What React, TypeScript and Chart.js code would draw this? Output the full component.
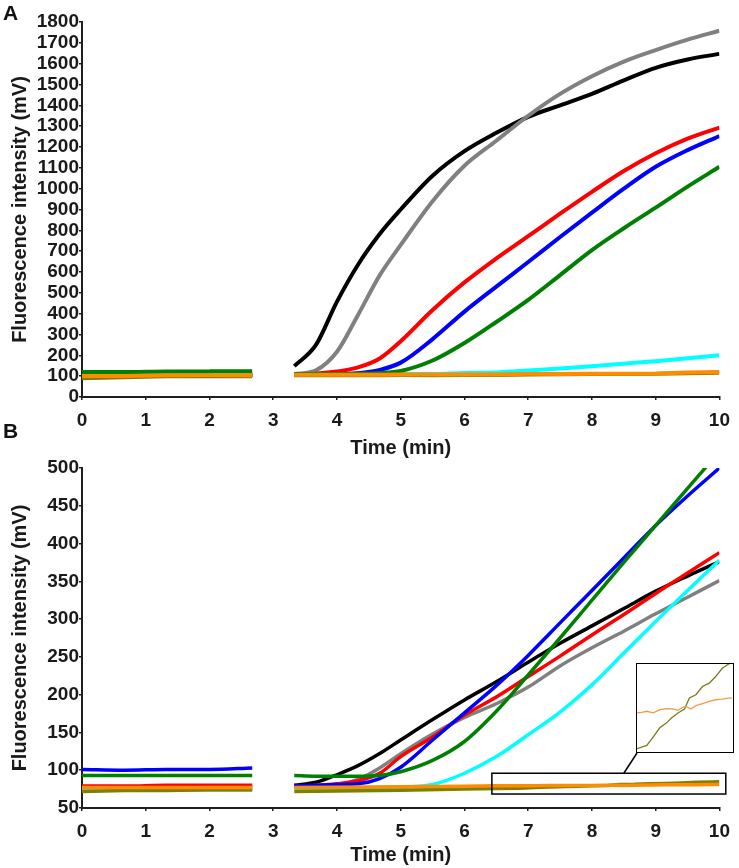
import React, { useEffect, useRef } from "react";
import { Chart, registerables } from "chart.js";

Chart.register(...registerables);

// ---------- shared time grids (min) ----------
const TIME_SEG1 = [0, 0.67, 1.33, 2, 2.67];
const TIME_SEG2 = [3.33, 3.67, 4, 4.33, 4.67, 5, 5.5, 6, 6.5, 7, 7.5, 8, 8.5, 9, 9.5, 10];
const GAP_TIME = 3;
const TIME_MAIN = [...TIME_SEG1, ...TIME_SEG2];

// ---------- Panel A (mV) ----------
const A_BLACK = [104, 104, 105, 106, 106, 148, 250, 458, 635, 782, 900, 1062, 1180, 1268, 1345, 1400, 1455, 1520, 1580, 1620, 1647];
const A_GRAY = [104, 104, 105, 106, 106, 110, 128, 217, 394, 584, 730, 940, 1110, 1230, 1350, 1455, 1540, 1610, 1665, 1715, 1758];
const A_RED = [104, 104, 105, 106, 106, 108, 112, 122, 142, 185, 268, 418, 550, 665, 772, 880, 985, 1085, 1170, 1240, 1293];
const A_BLUE = [104, 104, 105, 106, 106, 108, 109, 110, 114, 130, 165, 278, 410, 530, 648, 768, 885, 1000, 1105, 1185, 1253];
const A_GREEN = [120, 120, 123, 123, 124, 110, 110, 110, 112, 115, 125, 175, 259, 360, 466, 585, 705, 810, 909, 1010, 1105];
const A_CYAN = [104, 104, 105, 106, 106, 108, 108, 108, 109, 109, 110, 111, 115, 118, 127, 137, 148, 160, 172, 186, 200];
const A_ORANGE = [101, 101, 104, 105, 105, 107, 107, 107, 107, 107, 108, 108, 108, 108, 111, 111, 112, 112, 113, 118, 120];
const A_OLIVE = [90, 95, 99, 100, 100, 104, 104, 104, 104, 104, 105, 105, 106, 106, 108, 109, 110, 110, 111, 114, 116];

// ---------- Panel B (mV) ----------
const B_BLACK = [78, 78, 78, 78, 78, 80, 84, 94, 106, 122, 140, 167, 193, 217, 243, 268, 291, 314, 337, 357, 376];
const B_GRAY = [74, 74, 74, 74, 74, 77, 78, 81, 88, 103, 122, 148, 170, 188, 210, 238, 262, 284, 307, 329, 351];
const B_RED = [79, 79, 80, 80, 80, 79, 80, 82, 86, 96, 118, 144, 173, 197, 224, 251, 279, 306, 334, 361, 388];
const B_BLUE = [101, 100, 101, 101, 103, 79, 80, 81, 82, 89, 104, 140, 176, 212, 252, 295, 338, 381, 424, 463, 500];
const B_GREEN = [93, 93, 93, 93, 93, 93, 92, 92, 92, 93, 98, 113, 138, 178, 226, 275, 325, 375, 424, 473, 522];
const B_CYAN = [75, 75, 75, 75, 75, 76, 76, 76, 76, 76, 77, 81, 96, 118, 147, 177, 213, 255, 297, 338, 378];

const B_ORANGE_TIME = [0, 0.67, 1.33, 2, 2.67, 3.33, 4, 5, 6, 6.5, 6.68, 6.86, 7.1, 7.34, 7.59, 7.83, 8.01, 8.19, 8.31, 8.49, 8.67, 8.91, 9.16, 9.4, 9.64, 9.88, 10];
const B_ORANGE = [77, 77, 77, 77, 77, 77, 77.5, 78.2, 78.8, 79.44, 79.5, 79.61, 79.44, 79.78, 79.88, 79.85, 79.71, 80.02, 80.12, 79.85, 80.19, 80.39, 80.63, 80.8, 80.87, 80.97, 81.0];
const B_OLIVE_TIME = [0, 0.67, 1.33, 2, 2.67, 3.33, 4, 5, 6, 6.5, 6.86, 7.1, 7.34, 7.59, 7.77, 8.01, 8.25, 8.43, 8.67, 8.91, 9.16, 9.4, 9.64, 9.88, 10];
const B_OLIVE = [72, 73, 73, 74, 74, 72, 72.5, 73.5, 75, 75.74, 76.08, 76.97, 77.9, 78.41, 78.92, 79.44, 79.85, 80.98, 81.32, 82.17, 82.52, 83.2, 84.06, 84.5, 84.7];

// zoom window shown in the inset (time range, mV range)
const ZOOM_TIME = [6.43, 10.1];
const ZOOM_MV = [68.5, 96];
const INSET_TIME = [6.5, 10];
const INSET_MV = [75.5, 84.5];

const SERIES_COLORS = {
  orange: "#ff8c00",
  olive: "#808000",
  green: "#008000",
  cyan: "#00ffff",
  blue: "#0000ff",
  red: "#ff0000",
  gray: "#808080",
  black: "#000000",
};

const FONT = "'Liberation Sans', Arial, Helvetica, sans-serif";
const AXIS_COLOR = "#1e1e1e";
const TEXT_COLOR = "#1a1a1a";

// page layout
const PAGE_W = 739;
const A_H = 460;
const B_TOP = 456;
const B_H = 868 - B_TOP;
const INSET_BOX = { left: 636, top: 663, width: 98, height: 90 };

function toPoints(times: number[], values: number[]) {
  const pts: { x: number; y: number | null }[] = [];
  for (let i = 0; i < times.length; i++) {
    if (i > 0 && times[i - 1] < GAP_TIME && times[i] > GAP_TIME) {
      pts.push({ x: GAP_TIME, y: null });
    }
    pts.push({ x: times[i], y: values[i] });
  }
  return pts;
}

function ds(label: string, color: string, times: number[], values: number[], width: number, smooth = true) {
  return {
    label,
    data: toPoints(times, values),
    borderColor: color,
    backgroundColor: color,
    borderWidth: width,
    pointRadius: 0,
    spanGaps: false,
    fill: false,
    cubicInterpolationMode: smooth ? "monotone" : "default",
    tension: 0,
  };
}

function makeOptions(cfg: { yMin: number; yMax: number; yStep: number; padTop: number; xAxisHeight: number; titlePadBottom: number }) {
  const tickFont = { family: FONT, size: 19, weight: "bold" as const };
  const titleFont = { family: FONT, size: 20, weight: "bold" as const };
  const grid = { drawOnChartArea: false, drawTicks: true, tickLength: 3, color: AXIS_COLOR, lineWidth: 1.5 };
  const border = { display: true, color: AXIS_COLOR, width: 2 };
  return {
    responsive: false,
    maintainAspectRatio: false,
    animation: false as const,
    events: [],
    layout: { padding: { left: 0, right: 12, top: cfg.padTop, bottom: 0 } },
    plugins: { legend: { display: false }, tooltip: { enabled: false } },
    scales: {
      x: {
        type: "linear" as const,
        min: 0,
        max: 10,
        ticks: { stepSize: 1, color: TEXT_COLOR, font: tickFont, padding: 9, maxRotation: 0, autoSkip: false, callback: (v: any) => String(v) },
        grid,
        border,
        title: { display: true, text: "Time (min)", color: TEXT_COLOR, font: titleFont, padding: { top: 0, bottom: cfg.titlePadBottom } },
        afterFit: (s: any) => {
          s.height = cfg.xAxisHeight;
        },
      },
      y: {
        type: "linear" as const,
        min: cfg.yMin,
        max: cfg.yMax,
        ticks: { stepSize: cfg.yStep, color: TEXT_COLOR, font: tickFont, padding: 0, autoSkip: false, callback: (v: any) => String(v) },
        grid,
        border,
        title: { display: true, text: "Fluorescence intensity (mV)", color: TEXT_COLOR, font: titleFont, padding: { top: 8, bottom: 0 } },
        afterFit: (s: any) => {
          s.width = 82;
        },
      },
    },
  };
}

const insetMarker = {
  id: "insetMarker",
  afterDatasetsDraw(chart: any) {
    const { ctx, scales } = chart;
    const x = scales.x;
    const y = scales.y;
    const x0 = x.getPixelForValue(ZOOM_TIME[0]);
    const x1 = x.getPixelForValue(ZOOM_TIME[1]);
    const yTop = y.getPixelForValue(ZOOM_MV[1]);
    const yBot = y.getPixelForValue(ZOOM_MV[0]);
    ctx.save();
    ctx.strokeStyle = "#000";
    ctx.lineWidth = 1.5;
    ctx.strokeRect(x0, yTop, x1 - x0, yBot - yTop);
    ctx.beginPath();
    ctx.moveTo(x.getPixelForValue(8.5), yTop);
    ctx.lineTo(INSET_BOX.left + 1, INSET_BOX.top + INSET_BOX.height - B_TOP);
    ctx.stroke();
    ctx.restore();
  },
};

export default function App() {
  const refA = useRef<HTMLCanvasElement | null>(null);
  const refB = useRef<HTMLCanvasElement | null>(null);
  const refI = useRef<HTMLCanvasElement | null>(null);

  useEffect(() => {
    const wA = 4;
    const wB = 3.5;
    const chartA = new Chart(refA.current as HTMLCanvasElement, {
      type: "line",
      data: {
        datasets: [
          ds("orange", SERIES_COLORS.orange, TIME_MAIN, A_ORANGE, wA, false),
          ds("olive", SERIES_COLORS.olive, TIME_MAIN, A_OLIVE, wA, false),
          ds("green", SERIES_COLORS.green, TIME_MAIN, A_GREEN, wA),
          ds("cyan", SERIES_COLORS.cyan, TIME_MAIN, A_CYAN, wA),
          ds("blue", SERIES_COLORS.blue, TIME_MAIN, A_BLUE, wA),
          ds("red", SERIES_COLORS.red, TIME_MAIN, A_RED, wA),
          ds("gray", SERIES_COLORS.gray, TIME_MAIN, A_GRAY, wA),
          ds("black", SERIES_COLORS.black, TIME_MAIN, A_BLACK, wA),
        ] as any,
      },
      options: makeOptions({ yMin: 0, yMax: 1800, yStep: 100, padTop: 22, xAxisHeight: A_H - 397, titlePadBottom: 0 }) as any,
    });

    const chartB = new Chart(refB.current as HTMLCanvasElement, {
      type: "line",
      data: {
        datasets: [
          ds("orange", SERIES_COLORS.orange, B_ORANGE_TIME, B_ORANGE, wB, false),
          ds("olive", SERIES_COLORS.olive, B_OLIVE_TIME, B_OLIVE, wB, false),
          ds("cyan", SERIES_COLORS.cyan, TIME_MAIN, B_CYAN, wB),
          ds("green", SERIES_COLORS.green, TIME_MAIN, B_GREEN, wB),
          ds("blue", SERIES_COLORS.blue, TIME_MAIN, B_BLUE, wB),
          ds("red", SERIES_COLORS.red, TIME_MAIN, B_RED, wB),
          ds("gray", SERIES_COLORS.gray, TIME_MAIN, B_GRAY, wB),
          ds("black", SERIES_COLORS.black, TIME_MAIN, B_BLACK, wB),
        ] as any,
      },
      options: makeOptions({ yMin: 50, yMax: 500, yStep: 50, padTop: 12, xAxisHeight: B_H - (808 - B_TOP), titlePadBottom: 1 }) as any,
      plugins: [insetMarker],
    });

    const chartI = new Chart(refI.current as HTMLCanvasElement, {
      type: "line",
      data: {
        datasets: [
          ds("orange", "#f39a45", B_ORANGE_TIME, B_ORANGE, 1.3, false),
          ds("olive", "#7a7a1e", B_OLIVE_TIME, B_OLIVE, 1.3, false),
        ] as any,
      },
      options: {
        responsive: false,
        animation: false,
        events: [],
        layout: { padding: 0 },
        plugins: { legend: { display: false }, tooltip: { enabled: false } },
        scales: {
          x: { type: "linear", display: false, min: INSET_TIME[0], max: INSET_TIME[1] },
          y: { type: "linear", display: false, min: INSET_MV[0], max: INSET_MV[1] },
        },
      } as any,
    });

    return () => {
      chartA.destroy();
      chartB.destroy();
      chartI.destroy();
    };
  }, []);

  const panelLetter: React.CSSProperties = {
    position: "absolute",
    left: 3,
    fontFamily: FONT,
    fontWeight: "bold",
    fontSize: 21,
    lineHeight: 1,
    color: "#111",
  };

  return (
    <div style={{ position: "fixed", left: 0, top: 0, width: PAGE_W, height: 868, background: "#fff", overflow: "hidden" }}>
      <canvas ref={refA} width={PAGE_W} height={A_H} style={{ position: "absolute", left: 0, top: 0, width: PAGE_W, height: A_H }} />
      <canvas ref={refB} width={PAGE_W} height={B_H} style={{ position: "absolute", left: 0, top: B_TOP, width: PAGE_W, height: B_H }} />
      <div style={{ ...panelLetter, top: 2 }}>A</div>
      <div style={{ ...panelLetter, top: 420 }}>B</div>
      <div
        style={{
          position: "absolute",
          left: INSET_BOX.left,
          top: INSET_BOX.top,
          width: INSET_BOX.width,
          height: INSET_BOX.height,
          border: "1.5px solid #000",
          boxSizing: "border-box",
          background: "#fff",
        }}
      >
        <canvas ref={refI} width={INSET_BOX.width - 3} height={INSET_BOX.height - 3} style={{ display: "block", width: INSET_BOX.width - 3, height: INSET_BOX.height - 3 }} />
      </div>
    </div>
  );
}
